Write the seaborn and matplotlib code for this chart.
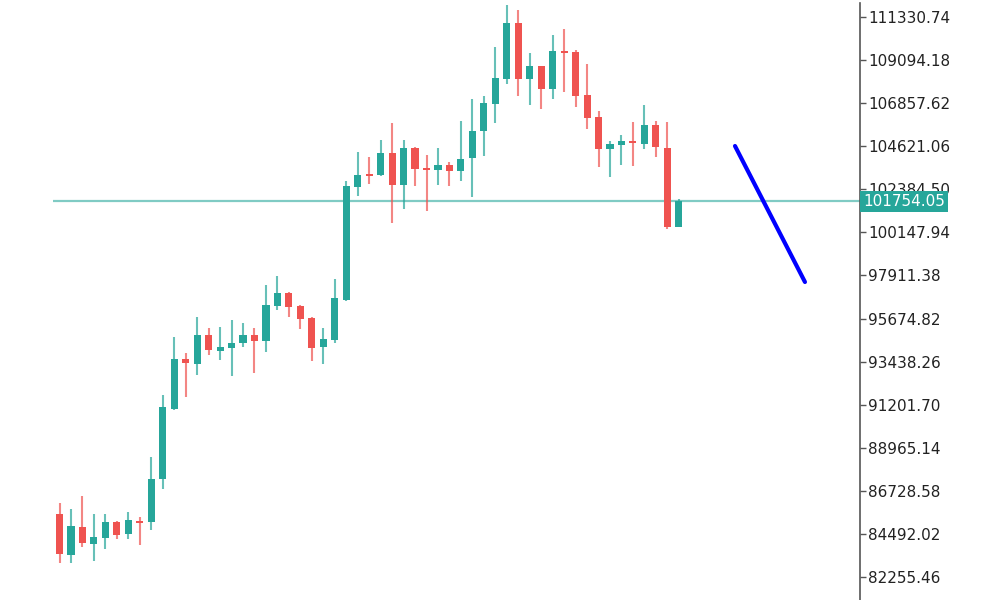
import numpy as np
import pandas as pd
import seaborn as sns
import matplotlib.pyplot as plt
import matplotlib.transforms as mtransforms

# candle data (oldest first)
opens = [85527, 83398, 84852, 83969, 84280, 85111, 84488, 85163, 85111, 87344,
         90978, 93574, 93315, 94820, 93990, 94145, 94405, 94820, 94509, 96326,
         97001, 96326, 95703, 94197, 94561, 96637, 102504, 103179, 103127, 104270,
         102608, 104529, 103491, 103387, 103647, 103335, 104010, 105412, 106814, 108112,
         111019, 108112, 108787, 107593, 109566, 109514, 107281, 106139, 104477, 104685,
         104893, 104737, 105723, 104529, 100428]
highs = [86098, 85786, 86461, 85527, 85527, 85163, 85630, 85371, 88486, 91705,
         94716, 93886, 95755, 95184, 95236, 95599, 95443, 95184, 97416, 97884,
         97053, 96378, 95755, 95184, 97728, 102816, 104322, 104062, 104945, 105827,
         104945, 104581, 104166, 104529, 103802, 105931, 107073, 107229, 109773, 111954,
         111694, 109462, 108787, 110396, 110708, 109617, 108891, 106450, 104893, 105204,
         105879, 106762, 105931, 105879, 101882]
lows = [82982, 82982, 83813, 83086, 83709, 84229, 84229, 83917, 84696, 86825,
        90926, 91601, 92743, 93782, 93522, 92692, 94197, 92847, 93938, 96118,
        95755, 95132, 93470, 93315, 94405, 96586, 102037, 102660, 103076, 100635,
        101362, 102556, 101258, 102608, 102556, 102816, 101985, 104114, 105827, 107852,
        107229, 106762, 106554, 107073, 107437, 106658, 105516, 103543, 103024, 103647,
        103595, 104477, 104062, 100324, 100428]
closes = [83450, 84904, 84021, 84332, 85111, 84436, 85215, 85059, 87344, 91082,
          93574, 93366, 94820, 94041, 94197, 94405, 94820, 94509, 96378, 97001,
          96274, 95651, 94145, 94613, 96741, 102556, 103127, 103076, 104270, 102608,
          104529, 103439, 103387, 103647, 103335, 103958, 105412, 106866, 108164, 111019,
          108112, 108787, 107593, 109566, 109462, 107229, 106087, 104477, 104737, 104893,
          104789, 105723, 104581, 100428, 101754.05]

# hand-drawn trend line (bar index, price)
trend_x = [58.9, 65.0]
trend_y = [104633, 97572]

last_price = 101754.05
tick_values = [82255.46, 84492.02, 86728.58, 88965.14, 91201.70, 93438.26, 95674.82,
               97911.38, 100147.94, 102384.50, 104621.06, 106857.62, 109094.18, 111330.74]

up_color = "#26a69a"
down_color = "#ef5350"

df = pd.DataFrame({"open": opens, "high": highs, "low": lows, "close": closes})
df["idx"] = np.arange(len(df))
df["up"] = df["close"] >= df["open"]
df["color"] = np.where(df["up"], up_color, down_color)

sns.set_theme(style="white")
plt.rcParams["font.family"] = ["DejaVu Sans"]

fig = plt.figure(figsize=(10, 6), dpi=100)
ax = fig.add_axes([0.053, 0.0, 0.807, 0.995])

# wicks
ax.vlines(df["idx"], df["low"], df["high"], colors=df["color"], linewidth=1.5,
          alpha=0.7, zorder=2)
# bodies
ax.bar(df["idx"], (df["close"] - df["open"]).abs(),
       bottom=df[["open", "close"]].min(axis=1), width=0.62,
       color=df["color"], linewidth=0, zorder=3)

# current price line
ax.axhline(last_price, color="#80cbc4", linewidth=1.6, zorder=1)

# trend line
sns.lineplot(x=trend_x, y=trend_y, ax=ax, color="#0000ff", linewidth=3,
             solid_capstyle="round", zorder=4)

ax.set_xlim(-0.57, 69.8)
ax.set_ylim(81061, 112058)

for side in ["left", "top", "bottom"]:
    ax.spines[side].set_visible(False)
ax.spines["right"].set_color("#555555")
ax.spines["right"].set_linewidth(1.2)

ax.set_xticks([])
ax.yaxis.tick_right()
ax.set_yticks(tick_values)
ax.set_yticklabels([f"{v:.2f}" for v in tick_values])
ax.tick_params(axis="y", direction="out", length=4, width=1, color="#555555",
               labelsize=11, labelcolor="#222222", pad=2)

# price label on the axis (covers the nearby tick label, as in the original)
trans = mtransforms.blended_transform_factory(ax.transAxes, ax.transData)
ax.text(1.004, last_price, f"{last_price:.2f}", transform=trans, ha="left",
        va="center", fontsize=11, color="white", zorder=10, clip_on=False,
        bbox=dict(boxstyle="square,pad=0.18", facecolor=up_color, edgecolor="none"))

fig.savefig("out.png", dpi=100)
